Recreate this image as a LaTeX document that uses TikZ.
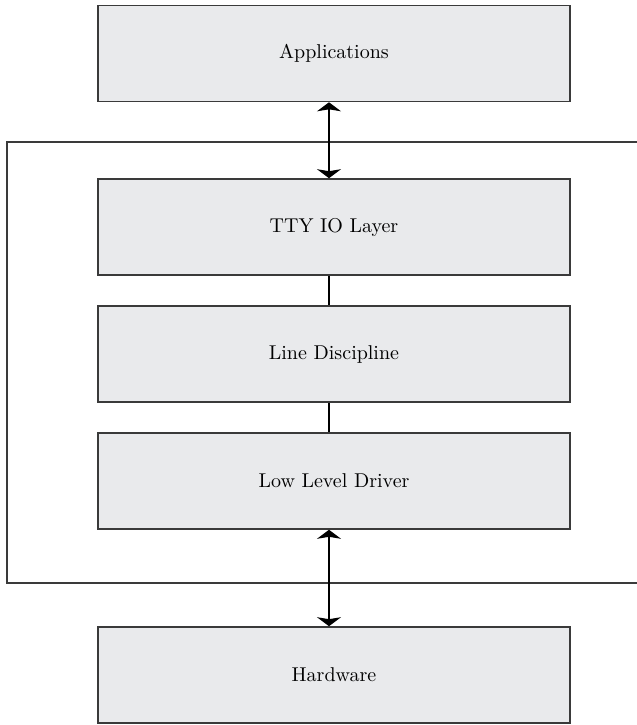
\documentclass[tikz,border=0pt]{standalone}
\usetikzlibrary{arrows.meta}
\usetikzlibrary{positioning}
\definecolor{boxgray}{HTML}{E9EAEC}
\definecolor{edgegray}{HTML}{3A3A3A}

\begin{document}
\begin{tikzpicture}[x=0.5pt,y=-0.5pt,
  layer/.style={draw=edgegray,line width=0.8pt,fill=boxgray,minimum width=236pt,minimum height=48pt,inner sep=0pt},
  link/.style={line width=0.6pt},
  dualarrow/.style={link,{Stealth[width=12pt,length=4.5pt,inset=1pt]}-{Stealth[width=12pt,length=4.5pt,inset=1pt]}}]
\useasboundingbox (0,0) rectangle (637,725);

% outer frame (right side runs off the page)
\draw[line width=0.8pt,edgegray] (640,142) -- (7,142) -- (7,583) -- (640,583);

\node[layer,anchor=center] (App) at (334,53.5) {Applications};
\node[layer,anchor=center] (TTY) at (334,227) {TTY IO Layer};
\node[layer,anchor=center] (LD) at (334,354) {Line Discipline};
\node[layer,anchor=center] (LLD) at (334,481) {Low Level Driver};
\node[layer,anchor=center] (HW) at (334,675) {Hardware};

\draw[dualarrow] ([xshift=-2.5pt]App.south) -- ([xshift=-2.5pt]TTY.north);
\draw[link] ([xshift=-2.5pt]TTY.south) -- ([xshift=-2.5pt]LD.north);
\draw[link] ([xshift=-2.5pt]LD.south) -- ([xshift=-2.5pt]LLD.north);
\draw[dualarrow] ([xshift=-2.5pt]LLD.south) -- ([xshift=-2.5pt]HW.north);

\end{tikzpicture}
\end{document}
